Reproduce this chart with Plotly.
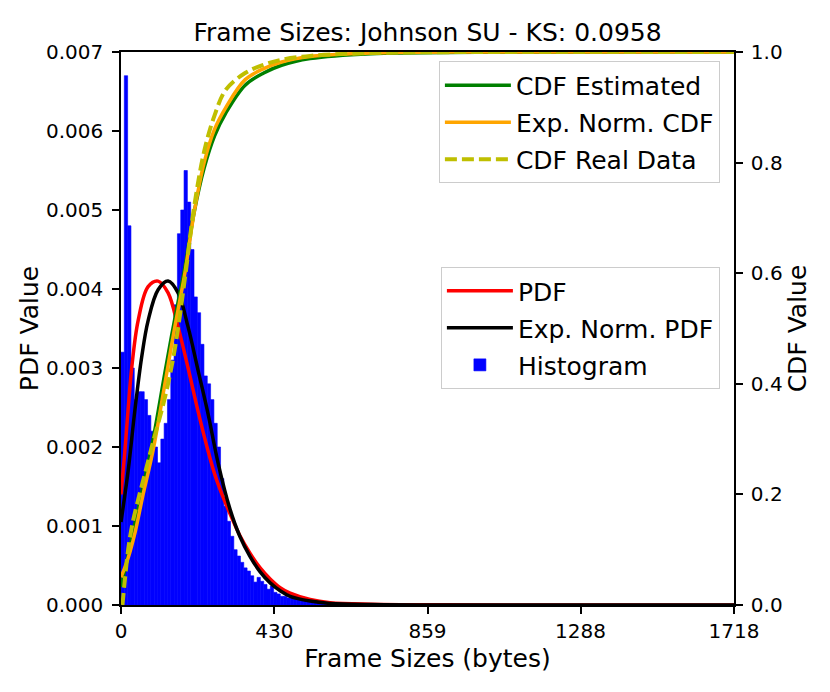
import plotly.graph_objects as go

# histogram of frame sizes (density), bins of equal width starting at 0
hist_bin_width = 9.3
hist_density = [
    0.0032, 0.0067, 0.0048, 0.0030, 0.0026, 0.0027, 0.0027, 0.0026, 0.0024, 0.0022,
    0.0020, 0.0018, 0.0021, 0.0023, 0.0026, 0.0031, 0.0038, 0.0047, 0.0050, 0.0055,
    0.0051, 0.0045, 0.0039, 0.0037, 0.0033, 0.0029, 0.0028, 0.0026, 0.0023, 0.0020,
    0.0016, 0.00125, 0.00106, 0.00087, 0.00070, 0.00062, 0.00054, 0.00047, 0.00043, 0.00037,
    0.00029, 0.00035, 0.00030, 0.00026, 0.00020, 0.00024, 0.00016, 0.00014, 0.00011, 0.00011,
    0.00009, 0.00009, 0.00008, 0.00008, 0.00006, 0.00006, 0.00005, 0.00005, 0.00005, 0.00003,
    0.00003, 0.00003, 0.00002, 0.00002, 0.00002, 0.00002, 0.00002, 0.00002, 0.00002, 0.00002,
    0.00002, 0.00001, 0.00001, 0.00001, 0.00001, 0.00001, 0.00001, 0.00001, 0.00001, 0.00001,
    0.00001, 0.00001, 0.00001, 0.00001, 0.00001,
]

# Johnson SU pdf
pdf_x = [0, 10, 20, 30, 48, 76, 104, 132, 160, 188, 216, 244, 263, 283, 305, 333,
         361, 390, 418, 446, 474, 530, 586, 700, 900, 1718]
pdf_y = [0.0014, 0.0019, 0.00248, 0.0030, 0.0036, 0.00403, 0.0041, 0.00395, 0.00352,
         0.00300, 0.00245, 0.00195, 0.00165, 0.0014, 0.00116, 0.00088, 0.00066, 0.00047,
         0.00033, 0.00022, 0.00015, 0.00007, 0.00003, 0.00001, 0.000002, 0.0]

# exponnorm pdf
enpdf_x = [0, 20, 39, 58, 76, 104, 132, 160, 188, 216, 244, 272, 305, 333, 361, 390,
           418, 446, 474, 530, 586, 700, 900, 1718]
enpdf_y = [0.00105, 0.0017, 0.00247, 0.00314, 0.0036, 0.00399, 0.0041, 0.00395, 0.00352,
           0.00297, 0.00242, 0.0018, 0.00122, 0.00087, 0.00062, 0.00042, 0.00028, 0.00018,
           0.00011, 0.00005, 0.00002, 0.000005, 0.000001, 0.0]

# cdf curves (right axis)
cdf_x = [0, 20, 39, 62, 90, 123, 150, 179, 205, 233, 262, 294, 348, 400, 450, 530, 700, 1000, 1718]
cdf_est = [0.033, 0.09, 0.148, 0.215, 0.30, 0.42, 0.515, 0.61, 0.71, 0.79, 0.848, 0.89,
           0.94, 0.962, 0.976, 0.988, 0.997, 0.9995, 1.0]
cdf_en = [0.05, 0.085, 0.13, 0.2, 0.28, 0.4, 0.5, 0.6, 0.71, 0.8, 0.86, 0.9, 0.95,
          0.97, 0.982, 0.992, 0.998, 1.0, 1.0]

real_x = [4, 10, 20, 30, 39, 62, 90, 123, 150, 179, 205, 233, 262, 294, 348, 400, 450,
          530, 700, 1000, 1718]
real_y = [0.0, 0.04, 0.1, 0.14, 0.167, 0.225, 0.295, 0.375, 0.46, 0.59, 0.72, 0.82,
          0.885, 0.932, 0.962, 0.977, 0.986, 0.993, 0.998, 1.0, 1.0]

x_ticks = [0, 430, 859, 1288, 1718]
pdf_ticks = [0.000, 0.001, 0.002, 0.003, 0.004, 0.005, 0.006, 0.007]
cdf_ticks = [0.0, 0.2, 0.4, 0.6, 0.8, 1.0]

FONT = "DejaVu Sans"

fig = go.Figure()

centers = [(i + 0.5) * hist_bin_width for i in range(len(hist_density))]
fig.add_trace(go.Bar(x=centers, y=hist_density, width=hist_bin_width,
                     marker=dict(color="blue", line=dict(width=0.6, color="blue")),
                     name="Histogram", legend="legend2", legendgroup="h",
                     legendrank=3))
fig.add_trace(go.Scatter(x=pdf_x, y=pdf_y, mode="lines", name="PDF",
                         line=dict(color="red", width=3.5, shape="spline"),
                         legend="legend2", legendgroup="p", legendrank=1))
fig.add_trace(go.Scatter(x=enpdf_x, y=enpdf_y, mode="lines", name="Exp. Norm. PDF",
                         line=dict(color="black", width=3.5, shape="spline"),
                         legend="legend2", legendgroup="e", legendrank=2))

fig.add_trace(go.Scatter(x=cdf_x, y=cdf_est, mode="lines", name="CDF Estimated", yaxis="y2",
                         line=dict(color="green", width=3.5, shape="spline"),
                         legendgroup="c1", legendrank=1))
fig.add_trace(go.Scatter(x=cdf_x, y=cdf_en, mode="lines", name="Exp. Norm. CDF", yaxis="y2",
                         line=dict(color="orange", width=3.5, shape="spline"),
                         legendgroup="c2", legendrank=2))
fig.add_trace(go.Scatter(x=real_x, y=real_y, mode="lines", name="CDF Real Data", yaxis="y2",
                         line=dict(color="#bfbf00", width=4, dash="12px,5px", shape="spline"),
                         legendgroup="c3", legendrank=3))

axis_common = dict(showline=True, linecolor="black", linewidth=1.6, ticks="outside",
                   ticklen=7, tickwidth=1.6, tickcolor="black", showgrid=False,
                   zeroline=False, tickfont=dict(size=20, family=FONT, color="black"))

legend_common = dict(font=dict(size=25, family=FONT, color="black"),
                     bgcolor="rgba(255,255,255,0.8)", bordercolor="#cccccc", borderwidth=1,
                     xanchor="right", yanchor="top", traceorder="grouped",
                     tracegroupgap=1.5, itemwidth=66)

# page body has an 8px margin, so the figure is a bit smaller than the window
fig.update_layout(
    width=822, height=684,
    margin=dict(l=113, r=96, t=44, b=87),
    paper_bgcolor="white", plot_bgcolor="white",
    font=dict(family=FONT, color="black"),
    title=dict(text="Frame Sizes: Johnson SU - KS: 0.0958", x=0.5, xref="paper",
               y=1 - 24 / 684, yanchor="middle", font=dict(size=25)),
    xaxis=dict(range=[0, 1718], tickvals=x_ticks, ticktext=[str(t) for t in x_ticks],
               mirror=True, title=dict(text="Frame Sizes (bytes)", font=dict(size=25), standoff=8),
               **axis_common),
    yaxis=dict(range=[0, 0.007], tickvals=pdf_ticks, tickformat=".3f", mirror=True,
               ticklabelstandoff=5,
               title=dict(text="PDF Value", font=dict(size=25), standoff=0), **axis_common),
    yaxis2=dict(range=[0, 1], tickvals=cdf_ticks, tickformat=".1f", overlaying="y",
                side="right", ticklabelstandoff=4,
                title=dict(text="CDF Value", font=dict(size=25), standoff=3),
                **axis_common),
    legend=dict(x=0.977, y=0.983, **legend_common),
    legend2=dict(x=0.977, y=0.611, **legend_common),
    showlegend=True,
)

fig.write_html("out.html")
